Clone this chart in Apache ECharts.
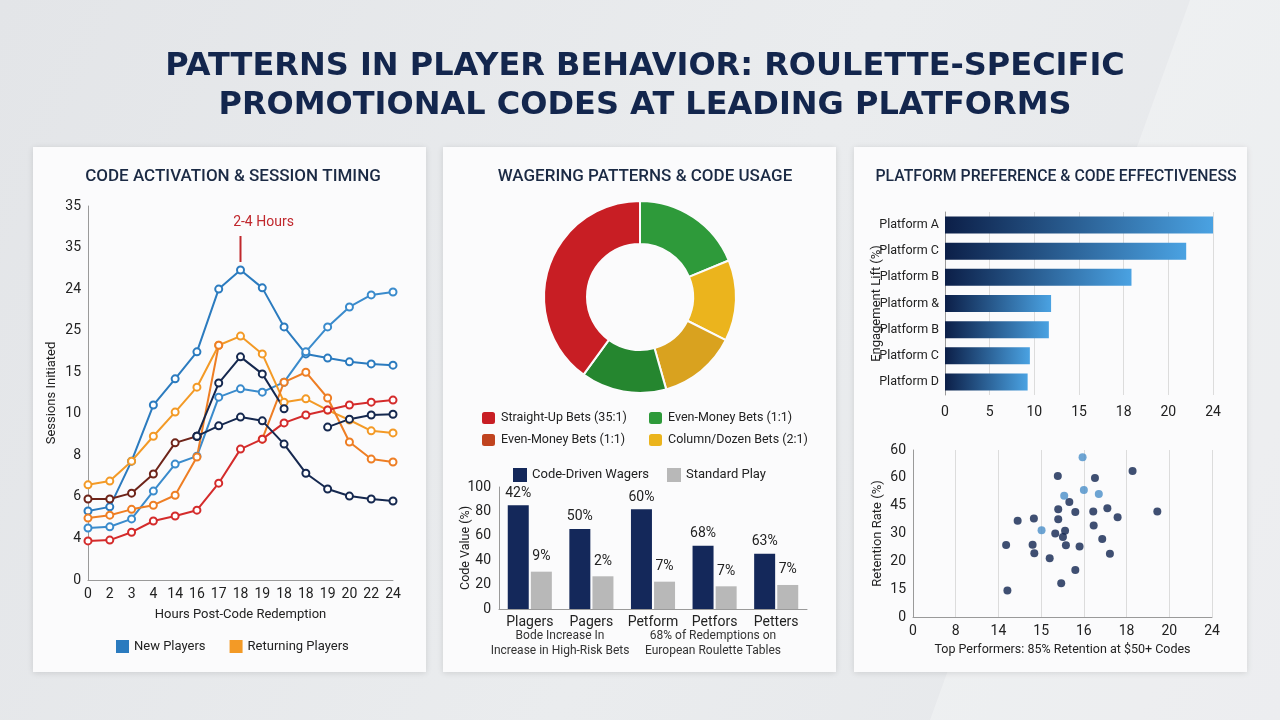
<!DOCTYPE html>
<html>
<head>
<meta charset="utf-8">
<title>Roulette promo codes</title>
<script src="https://cdn.jsdelivr.net/npm/echarts@6/dist/echarts.min.js"></script>
<style>
  html, body { margin: 0; padding: 0; }
  body { width: 1280px; height: 720px; background: linear-gradient(115deg, #e3e5e8 0%, #eaecee 55%, #e5e7ea 100%); }
  #chart { width: 1280px; height: 720px; }
</style>
</head>
<body>
<div id="chart"></div>
<script>
// ---- panel 1: code activation & session timing (values in tick-index units)
const hourLabels = ["0", "2", "3", "4", "14", "16", "17", "18", "19", "18", "18", "19", "20", "22", "24"];
const sessionTicks = ["0", "4", "6", "8", "10", "15", "25", "24", "35", "35"];
const newPlayersTop = [1.66, 1.76, 2.86, 4.21, 4.84, 5.49, 7.0, 7.46, 7.03, 6.09, 5.44, 5.34, 5.25, 5.2, 5.17];
const newPlayersLow = [1.25, 1.28, 1.47, 2.14, 2.79, 2.98, 4.4, 4.6, 4.52, 4.76, 5.49, 6.09, 6.57, 6.86, 6.93];
const returningTop = [2.29, 2.38, 2.86, 3.46, 4.04, 4.64, 5.65, 5.87, 5.44, 4.28, 4.36, 4.09, 3.85, 3.59, 3.54];
const returningLow = [1.49, 1.56, 1.7, 1.8, 2.04, 2.96, 5.65, null, 3.39, 4.76, 5.0, 4.38, 3.32, 2.91, 2.84];
const redLine = [0.94, 0.96, 1.15, 1.42, 1.54, 1.68, 2.33, 3.15, 3.39, 3.78, 3.97, 4.09, 4.21, 4.28, 4.33];
const brownStart = [1.95, 1.95, 2.09, 2.55, 3.3, 3.46, null, null, null, null, null, null, null, null, null];
const navyFlat = [null, null, null, null, null, 3.46, 3.71, 3.92, 3.83, 3.27, 2.57, 2.19, 2.02, 1.95, 1.9];
const navyPeak = [null, null, null, null, null, 3.46, 4.74, 5.37, 4.96, 4.12, null, null, null, null, null];
const navyRight = [null, null, null, null, null, null, null, null, null, null, null, 3.68, 3.87, 3.97, 3.99];

// ---- panel 2: wagering patterns
const betTypes = ["Even-Money Bets (1:1)", "Column/Dozen Bets (2:1)", "Dozen Bets", "Even-Money Bets (1:1) ", "Straight-Up Bets (35:1)"];
const betShares = [18.8, 13.6, 13.2, 14.4, 40];
const betColors = ["#2e9a3a", "#ebb41d", "#d9a21f", "#25862f", "#c81e24"];
const playerGroups = ["Plagers", "Pagers", "Petform", "Petfors", "Petters"];
const codeDriven = [85, 65.6, 81.7, 51.9, 45.3];
const standardPlay = [30.6, 26.8, 22.4, 18.6, 19.7];
const codeDrivenLabels = ["42%", "50%", "60%", "68%", "63%"];
const standardLabels = ["9%", "2%", "7%", "7%", "7%"];

// ---- panel 3: platforms
const platforms = ["Platform A", "Platform C", "Platform B", "Platform &", "Platform B", "Platform C", "Platform D"];
const engagementLift = [24, 21.6, 16.7, 9.5, 9.3, 7.6, 7.4];
const liftTicks = ["0", "5", "10", "15", "18", "20", "24"];
const scatterXTicks = ["0", "8", "14", "15", "16", "18", "20", "24"];
const scatterYTicks = ["0", "15", "20", "30", "45", "60", "60"];
const topX = [3.97, 4.0, 3.54, 4.35, 3.01];
const topY = [5.74, 4.56, 4.36, 4.42, 3.12];
const restX = [5.14, 3.39, 4.26, 3.66, 3.4, 3.8, 4.22, 4.55, 5.72, 2.45, 2.83, 3.4, 4.79, 4.23, 3.56, 3.33, 3.51, 4.43, 2.18, 2.8, 3.58, 3.9, 2.84, 4.61, 3.2, 3.8, 3.47, 2.21];
const restY = [5.25, 5.07, 4.99, 4.13, 3.87, 3.77, 3.79, 3.91, 3.79, 3.46, 3.54, 3.51, 3.58, 3.29, 3.1, 3.0, 2.87, 2.8, 2.59, 2.6, 2.58, 2.53, 2.29, 2.27, 2.11, 1.69, 1.21, 0.95];

const FONT = "Roboto";
const INK = "#222";
const AXIS = "#9a9a9a";

function toXY(arr) {
  return arr.map((v, i) => [i, v == null ? "-" : v]);
}

function lineSeries(name, values, color, extra) {
  return Object.assign({
    type: "line",
    name,
    xAxisIndex: 0,
    yAxisIndex: 0,
    data: toXY(values),
    symbol: "emptyCircle",
    symbolSize: 7,
    lineStyle: { width: 2, color },
    itemStyle: { color, borderWidth: 1.6 },
    z: 3
  }, extra || {});
}

function card(x) {
  return {
    type: "rect",
    shape: { x, y: 147, width: 393, height: 525 },
    style: { fill: "#fbfbfc", shadowBlur: 6, shadowColor: "rgba(0,0,0,0.12)", shadowOffsetY: 1 },
    z: -5
  };
}

function note(text, x, y) {
  return {
    type: "text",
    x,
    y,
    style: { text, font: `12px ${FONT}`, fill: "#333", align: "center", verticalAlign: "middle" },
    z: 5
  };
}

const chart = echarts.init(document.getElementById("chart"));

const option = {
  animation: false,
  textStyle: { fontFamily: FONT },
  title: [
    {
      text: "PATTERNS IN PLAYER BEHAVIOR: ROULETTE-SPECIFIC\nPROMOTIONAL CODES AT LEADING PLATFORMS",
      left: 640,
      top: 42,
      textAlign: "center",
      textStyle: { fontFamily: "DejaVu Sans", fontSize: 32, fontWeight: "bold", color: "#13264d", lineHeight: 39 }
    },
    { text: "CODE ACTIVATION & SESSION TIMING", left: 228, top: 163, textAlign: "center", textStyle: { fontSize: 17, fontWeight: 500, color: "#1b2a44" } },
    { text: "WAGERING PATTERNS & CODE USAGE", left: 640, top: 163, textAlign: "center", textStyle: { fontSize: 17, fontWeight: 500, color: "#1b2a44" } },
    { text: "PLATFORM PREFERENCE & CODE EFFECTIVENESS", left: 1051, top: 164, textAlign: "center", textStyle: { fontSize: 15.8, fontWeight: 500, color: "#1b2a44" } }
  ],
  graphic: [
    {
      type: "polygon",
      shape: { points: [[1190, 0], [1280, 0], [1280, 720], [930, 720]] },
      style: { fill: "rgba(255,255,255,0.28)" },
      z: -10
    },
    card(33),
    card(443),
    card(854),
    note("Bode Increase In", 560, 636),
    note("Increase in High-Risk Bets", 560, 651),
    note("68% of Redemptions on", 713, 636),
    note("European Roulette Tables", 713, 651)
  ],
  legend: [
    {
      data: ["New Players", "Returning Players"],
      left: 111,
      top: 635,
      icon: "rect",
      itemWidth: 13,
      itemHeight: 13,
      itemGap: 24,
      selectedMode: false,
      textStyle: { fontSize: 13, color: INK }
    },
    {
      data: ["Straight-Up Bets (35:1)", { name: "Even-Money Bets (1:1) ", itemStyle: { color: "#c0431f" } }],
      orient: "vertical",
      left: 475,
      top: 405,
      itemGap: 6,
      itemWidth: 15,
      itemHeight: 14,
      selectedMode: false,
      textStyle: { fontSize: 12.5, color: INK }
    },
    {
      data: ["Even-Money Bets (1:1)", "Column/Dozen Bets (2:1)"],
      orient: "vertical",
      left: 642,
      top: 405,
      itemGap: 6,
      itemWidth: 15,
      itemHeight: 14,
      selectedMode: false,
      textStyle: { fontSize: 12.5, color: INK }
    },
    {
      data: ["Code-Driven Wagers", "Standard Play"],
      left: 508,
      top: 463,
      icon: "rect",
      itemWidth: 14,
      itemHeight: 14,
      itemGap: 18,
      selectedMode: false,
      textStyle: { fontSize: 13, color: INK }
    }
  ],
  grid: [
    { left: 88, top: 206, width: 305, height: 374 },
    { left: 499, top: 487, width: 308, height: 122 },
    { left: 945, top: 212, width: 268, height: 183 },
    { left: 913, top: 450, width: 299, height: 167 }
  ],
  xAxis: [
    {
      gridIndex: 0,
      type: "value",
      min: 0,
      max: 14,
      interval: 1,
      name: "Hours Post-Code Redemption",
      nameLocation: "middle",
      nameGap: 28,
      nameMoveOverlap: false,
      nameTextStyle: { fontSize: 13, color: INK },
      axisLabel: { formatter: (v) => hourLabels[v], fontSize: 14, color: INK, margin: 7 },
      axisLine: { lineStyle: { color: AXIS } },
      axisTick: { show: false },
      splitLine: { show: false }
    },
    {
      gridIndex: 1,
      type: "category",
      data: playerGroups,
      axisLabel: { fontSize: 14, color: INK, margin: 6, interval: 0 },
      axisLine: { lineStyle: { color: AXIS } },
      axisTick: { show: false }
    },
    {
      gridIndex: 2,
      type: "value",
      min: 0,
      max: 24,
      interval: 4,
      axisLabel: { formatter: (v) => liftTicks[v / 4], fontSize: 14, color: INK, margin: 10 },
      axisLine: { show: false },
      axisTick: { show: false },
      splitLine: { lineStyle: { color: "#dcdcdc" } }
    },
    {
      gridIndex: 3,
      type: "value",
      min: 0,
      max: 7,
      interval: 1,
      name: "Top Performers: 85% Retention at $50+ Codes",
      nameLocation: "middle",
      nameGap: 26,
      nameMoveOverlap: false,
      nameTextStyle: { fontSize: 12.5, color: INK },
      axisLabel: { formatter: (v) => scatterXTicks[v], fontSize: 14, color: INK, margin: 7 },
      axisLine: { lineStyle: { color: AXIS } },
      axisTick: { show: false },
      splitLine: { lineStyle: { color: "#dcdcdc" } }
    }
  ],
  yAxis: [
    {
      gridIndex: 0,
      type: "value",
      min: 0,
      max: 9,
      interval: 1,
      name: "Sessions Initiated",
      nameLocation: "middle",
      nameRotate: 90,
      nameGap: 30,
      nameMoveOverlap: false,
      nameTextStyle: { fontSize: 13, color: INK },
      axisLabel: { formatter: (v) => sessionTicks[v], fontSize: 14, color: INK, margin: 7 },
      axisLine: { show: true, lineStyle: { color: AXIS } },
      axisTick: { show: false },
      splitLine: { show: false }
    },
    {
      gridIndex: 1,
      type: "value",
      min: 0,
      max: 100,
      interval: 20,
      name: "Code Value (%)",
      nameLocation: "middle",
      nameRotate: 90,
      nameGap: 27,
      nameMoveOverlap: false,
      nameTextStyle: { fontSize: 12.5, color: INK },
      axisLabel: { fontSize: 14, color: INK, margin: 8 },
      axisLine: { show: true, lineStyle: { color: AXIS } },
      axisTick: { show: false },
      splitLine: { show: false }
    },
    {
      gridIndex: 2,
      type: "category",
      inverse: true,
      data: platforms,
      name: "Engagement Lift (%)",
      nameLocation: "middle",
      nameRotate: 90,
      nameGap: 62,
      nameMoveOverlap: false,
      nameTextStyle: { fontSize: 13, color: INK },
      axisLabel: { fontSize: 12.5, color: INK, margin: 6, interval: 0 },
      axisLine: { show: true, lineStyle: { color: AXIS } },
      axisTick: { show: false }
    },
    {
      gridIndex: 3,
      type: "value",
      min: 0,
      max: 6,
      interval: 1,
      name: "Retention Rate (%)",
      nameLocation: "middle",
      nameRotate: 90,
      nameGap: 29,
      nameMoveOverlap: false,
      nameTextStyle: { fontSize: 13, color: INK },
      axisLabel: { formatter: (v) => scatterYTicks[v], fontSize: 14, color: INK, margin: 7 },
      axisLine: { show: true, lineStyle: { color: AXIS } },
      axisTick: { show: false },
      splitLine: { show: false }
    }
  ],
  series: [
    lineSeries("New Players", newPlayersTop, "#2b7bbf", {
      markPoint: {
        symbol: "rect",
        symbolSize: [2, 26],
        symbolOffset: [0, -21],
        itemStyle: { color: "#c0282d" },
        label: { show: true, position: "top", distance: 6, offset: [23, 0], formatter: "2-4 Hours", color: "#c0282d", fontSize: 14 },
        data: [{ coord: [7, newPlayersTop[7]] }]
      }
    }),
    lineSeries("New Players", newPlayersLow, "#3a8bcc"),
    lineSeries("Returning Players", returningTop, "#f39a26"),
    lineSeries("Returning Players", returningLow, "#ee7e24"),
    lineSeries("Red", redLine, "#d42b2b"),
    lineSeries("Brown", brownStart, "#6e2419"),
    lineSeries("Navy", navyFlat, "#15284f"),
    lineSeries("Navy", navyPeak, "#15284f"),
    lineSeries("Navy", navyRight, "#15284f"),
    {
      type: "pie",
      center: [640, 297],
      radius: [53, 96],
      startAngle: 90,
      label: { show: false },
      emphasis: { disabled: true },
      itemStyle: { borderColor: "#fbfbfc", borderWidth: 2 },
      data: betTypes.map((name, i) => ({ name, value: betShares[i], itemStyle: { color: betColors[i] } }))
    },
    {
      type: "bar",
      name: "Code-Driven Wagers",
      xAxisIndex: 1,
      yAxisIndex: 1,
      data: codeDriven,
      barWidth: 21,
      barGap: "10%",
      itemStyle: { color: "#14285a" },
      label: { show: true, position: "top", distance: 5, fontSize: 14, color: INK, formatter: (p) => codeDrivenLabels[p.dataIndex] }
    },
    {
      type: "bar",
      name: "Standard Play",
      xAxisIndex: 1,
      yAxisIndex: 1,
      data: standardPlay,
      barWidth: 21,
      itemStyle: { color: "#b8b8b8" },
      label: { show: true, position: "top", distance: 8, fontSize: 14, color: INK, formatter: (p) => standardLabels[p.dataIndex] }
    },
    {
      type: "bar",
      xAxisIndex: 2,
      yAxisIndex: 2,
      data: engagementLift,
      barWidth: 17,
      itemStyle: {
        color: new echarts.graphic.LinearGradient(0, 0, 1, 0, [
          { offset: 0, color: "#0c1f48" },
          { offset: 1, color: "#4aa2e2" }
        ])
      }
    },
    {
      type: "scatter",
      xAxisIndex: 3,
      yAxisIndex: 3,
      symbolSize: 8,
      itemStyle: { color: "#10244f" },
      data: restX.map((x, i) => [x, restY[i]])
    },
    {
      type: "scatter",
      xAxisIndex: 3,
      yAxisIndex: 3,
      symbolSize: 8,
      itemStyle: { color: "#4a8ec8" },
      data: topX.map((x, i) => [x, topY[i]])
    }
  ]
};

chart.setOption(option);
</script>
</body>
</html>
